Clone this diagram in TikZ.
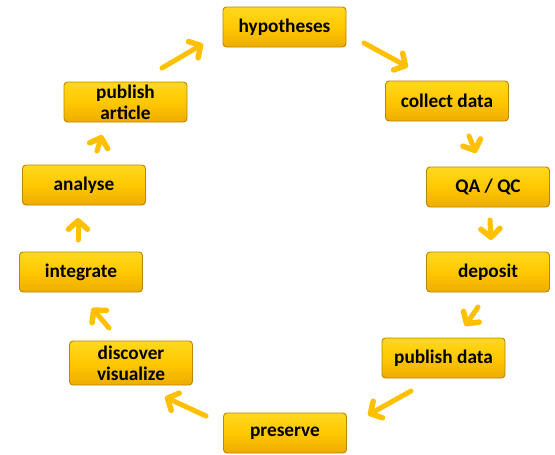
\documentclass[tikz,border=0pt]{standalone}
\usepackage{fontspec}
\setmainfont{Carlito}
\usetikzlibrary{arrows.meta}
\definecolor{arrowgold}{RGB}{255,192,0}
\definecolor{boxtop}{RGB}{255,216,30}
\definecolor{boxmid}{RGB}{255,200,0}
\definecolor{boxbot}{RGB}{238,172,0}
\definecolor{boxedge}{RGB}{185,135,0}
\begin{document}
\begin{tikzpicture}[x=1pt,y=-1pt,
  box/.style={rectangle, rounded corners=3.5pt, top color=boxtop, bottom color=boxbot,
    middle color=boxmid,
    draw=boxedge, line width=0.9pt, minimum width=123pt, minimum height=40pt,
    inner sep=1pt, align=center, text=black,
    font=\bfseries\fontsize{19.3}{21}\selectfont},
  flow/.style={draw=arrowgold, line width=5pt, line cap=round,
    -{Straight Barb[length=8.5pt,width=19pt,line width=5.5pt,round]}}]
\useasboundingbox (0,0) rectangle (555,455);
\fill[white] (0,0) rectangle (555,455);
\node[box] (hyp) at (284.5,27) {hypotheses};
\node[box] (col) at (447,101) {collect data};
\node[box] (qa) at (488,187) {QA / QC};
\node[box] (dep) at (488,272) {deposit};
\node[box] (pubd) at (443.5,358) {publish data};
\node[box] (pres) at (285,433) {preserve};
\node[box, minimum height=44pt] (disc) at (131,363) {discover\\visualize};
\node[box] (integ) at (81,272) {integrate};
\node[box] (ana) at (84,185) {analyse};
\node[box] (puba) at (125.5,102) {publish\\article};
% arrow end points
\coordinate (a1s) at (162,68);  \coordinate (a1e) at (203,44);
\coordinate (a2s) at (364,43);  \coordinate (a2e) at (408,67);
\coordinate (a3s) at (469,136); \coordinate (a3e) at (476,153);
\coordinate (a4s) at (490,220); \coordinate (a4e) at (491,240);
\coordinate (a5s) at (478,307); \coordinate (a5e) at (465,326);
\coordinate (a6s) at (411,391); \coordinate (a6e) at (368,415);
\coordinate (a7s) at (206,416); \coordinate (a7e) at (165,397);
\coordinate (a8s) at (109,328); \coordinate (a8e) at (92,308);
\coordinate (a9s) at (78,240);  \coordinate (a9e) at (78,218);
\coordinate (a10s) at (97,151); \coordinate (a10e) at (102,135);
\draw[flow] (a1s) -- (a1e);
\draw[flow] (a2s) -- (a2e);
\draw[flow] (a3s) -- (a3e);
\draw[flow] (a4s) -- (a4e);
\draw[flow] (a5s) -- (a5e);
\draw[flow] (a6s) -- (a6e);
\draw[flow] (a7s) -- (a7e);
\draw[flow] (a8s) -- (a8e);
\draw[flow] (a9s) -- (a9e);
\draw[flow] (a10s) -- (a10e);
\end{tikzpicture}
\end{document}
